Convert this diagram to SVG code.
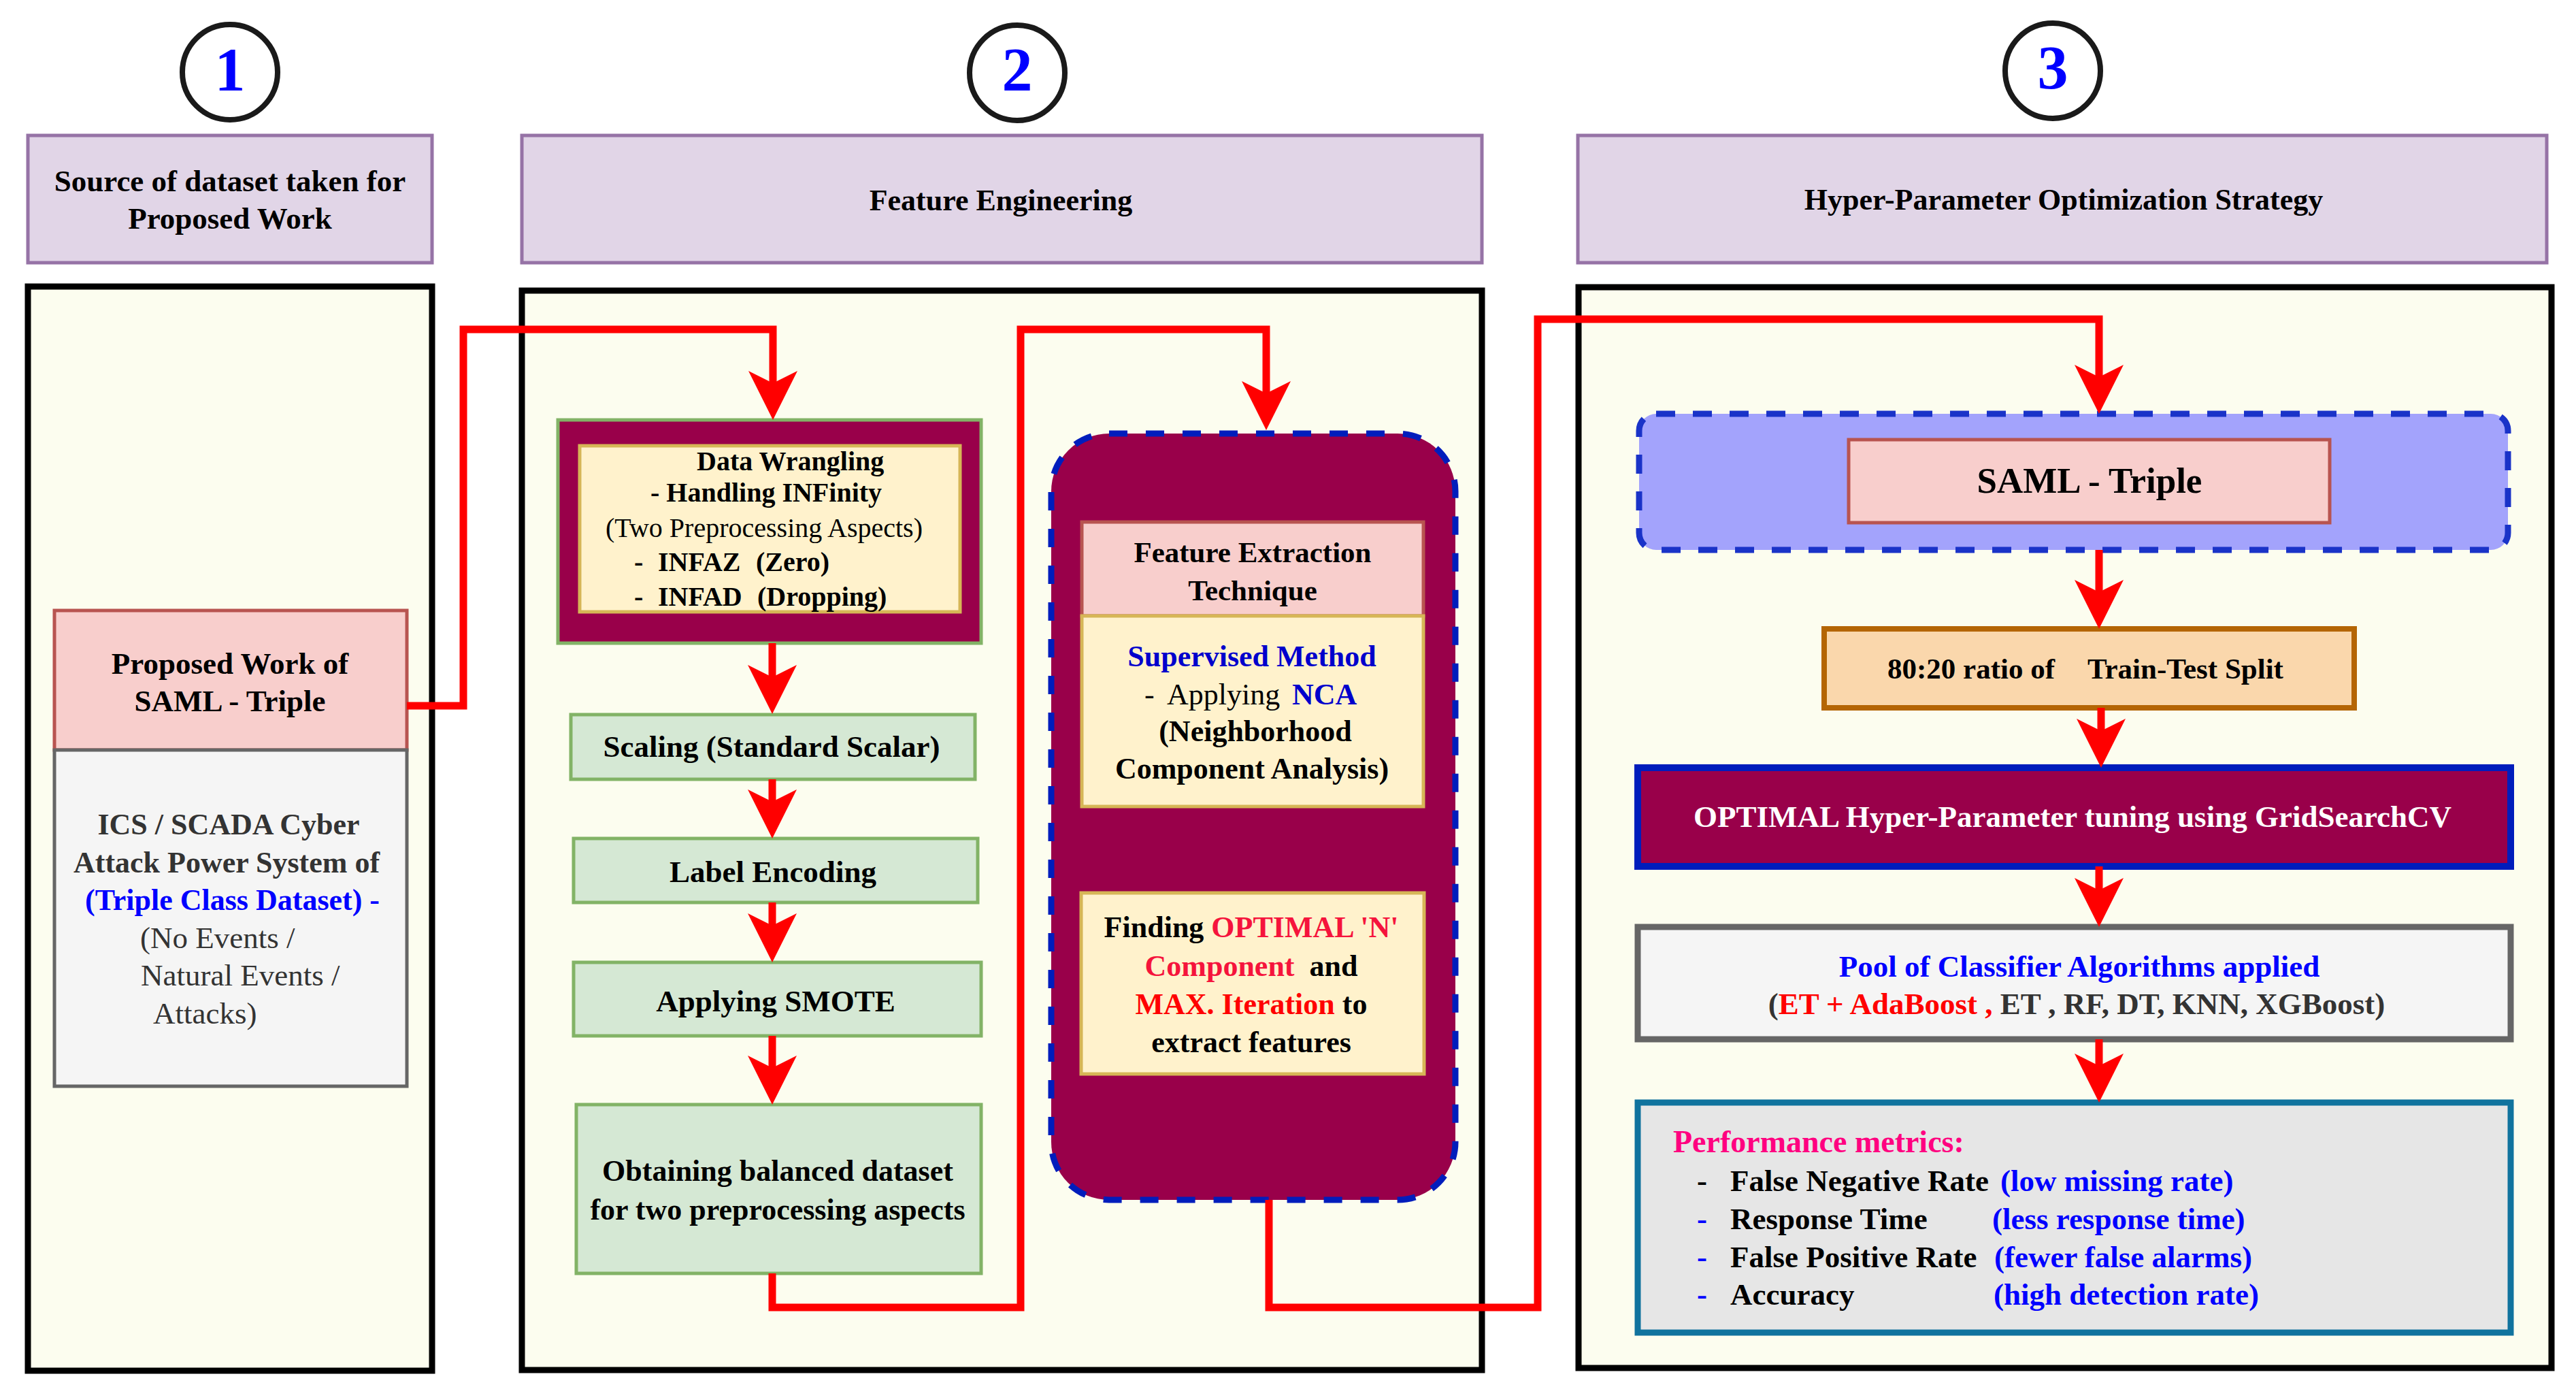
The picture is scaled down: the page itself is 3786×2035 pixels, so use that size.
<svg xmlns="http://www.w3.org/2000/svg" width="3786" height="2035" viewBox="0 0 3786 2035">
<style>
text{font-family:"Liberation Serif","Times New Roman",serif;font-size:45px;font-weight:bold;fill:#000}
.c{text-anchor:middle}
.n{font-weight:normal}
.hdr{fill:#E1D5E7;stroke:#9673A6;stroke-width:5}
.panel{fill:#FCFDEF;stroke:#000;stroke-width:9}
.green{fill:#D5E8D4;stroke:#82B366;stroke-width:5}
.yel{fill:#FFF2CC;stroke:#D6B656;stroke-width:5}
.pink{fill:#F8CECC;stroke:#B85450;stroke-width:5}
.gray{fill:#F5F5F5;stroke:#666666}
.maroon{fill:#99004A}
.num{font-size:90px;fill:#0000FF}
.circ{fill:#fff;stroke:#1A1A1A;stroke-width:8}
.con{fill:none;stroke:#FF0000;stroke-width:11;marker-end:url(#arr)}
.blue{fill:#0000FF}
.dblue{fill:#0000CC}
.red{fill:#FF0000}
.dk{fill:#333333}
.pm{font-size:45px}
</style>
<defs>
<marker id="arr" markerUnits="userSpaceOnUse" markerWidth="72" markerHeight="72" viewBox="0 0 72 72" refX="18" refY="36" orient="auto">
<path d="M0,0 L72,36 L0,72 L18,36 Z" fill="#FF0000"/>
</marker>
</defs>
<rect width="3786" height="2035" fill="#fff"/>

<!-- circles -->
<g id="step1"><circle class="circ" cx="338" cy="106" r="70"/><text class="num c" x="338" y="133">1</text></g>
<g id="step2"><circle class="circ" cx="1495" cy="107" r="70"/><text class="num c" x="1495" y="133">2</text></g>
<g id="step3"><circle class="circ" cx="3017" cy="104" r="70"/><text class="num c" x="3017" y="130">3</text></g>

<!-- headers -->
<g id="header1"><rect class="hdr" x="41" y="199" width="594" height="187"/>
<text class="c" x="338" y="281">Source of dataset taken for</text>
<text class="c" x="338" y="336">Proposed Work</text></g>
<g id="header2"><rect class="hdr" x="767" y="199" width="1411" height="187"/>
<text class="c" x="1471" y="309" style="font-size:44px">Feature Engineering</text></g>
<g id="header3"><rect class="hdr" x="2319" y="199" width="1424" height="187"/>
<text class="c" x="3033" y="308" style="font-size:44px">Hyper-Parameter Optimization Strategy</text></g>

<!-- panels -->
<g id="panel1"><rect class="panel" x="41" y="421" width="594" height="1593"/></g>
<g id="panel2"><rect class="panel" x="767" y="427" width="1411" height="1586"/></g>
<g id="panel3"><rect class="panel" x="2320" y="422" width="1430" height="1588"/></g>

<!-- panel 1 nodes -->
<g id="proposed"><rect class="pink" x="80" y="897" width="518" height="205"/>
<text class="c" x="338" y="990">Proposed Work of</text>
<text class="c" x="338" y="1045">SAML - Triple</text></g>
<g id="dataset"><rect class="gray" style="stroke-width:5" x="80" y="1102" width="518" height="494"/>
<text class="c dk" x="336" y="1226" style="font-size:44px">ICS / SCADA Cyber</text>
<text class="c dk" x="333" y="1282" style="font-size:44px">Attack Power System of</text>
<text class="blue" x="125" y="1337" style="font-size:44px">(Triple Class Dataset) -</text>
<text class="n dk" x="206" y="1393">(No Events /</text>
<text class="n dk" x="207" y="1448">Natural Events /</text>
<text class="n dk" x="225" y="1504">Attacks)</text></g>

<!-- panel 2 nodes -->
<g id="wrangling"><rect class="maroon" x="820" y="617" width="622" height="328" stroke="#82B366" stroke-width="5"/>
<rect class="yel" x="852" y="655" width="559" height="244"/>
<text x="1024" y="691" style="font-size:40px">Data Wrangling</text>
<text x="956" y="737" style="font-size:40px">- Handling INFinity</text>
<text class="n" x="890" y="789" style="font-size:40px">(Two Preprocessing Aspects)</text>
<text style="font-size:40px" y="839"><tspan x="932">-</tspan><tspan x="967">INFAZ</tspan><tspan x="1111">(Zero)</tspan></text>
<text style="font-size:40px" y="890"><tspan x="932">-</tspan><tspan x="967">INFAD</tspan><tspan x="1113">(Dropping)</tspan></text></g>
<g id="scaling"><rect class="green" x="839" y="1050" width="594" height="95"/>
<text class="c" x="1134" y="1112">Scaling (Standard Scalar)</text></g>
<g id="labelenc"><rect class="green" x="843" y="1232" width="594" height="94"/>
<text class="c" x="1136" y="1296">Label Encoding</text></g>
<g id="smote"><rect class="green" x="843" y="1414" width="599" height="108"/>
<text class="c" x="1140" y="1486">Applying SMOTE</text></g>
<g id="balanced"><rect class="green" x="847" y="1623" width="595" height="248"/>
<text class="c" x="1143" y="1735" style="font-size:44px">Obtaining balanced dataset</text>
<text class="c" x="1143" y="1792" style="font-size:44px">for two preprocessing aspects</text></g>

<g id="featureContainer"><rect x="1545" y="637" width="594" height="1126" rx="85" ry="85" fill="#99004A" stroke="#001DBC" stroke-width="9" stroke-dasharray="27 27"/></g>
<g id="featureTitle"><rect class="pink" x="1590" y="767" width="502" height="138"/>
<text class="c" x="1841" y="826" style="font-size:43px">Feature Extraction</text>
<text class="c" x="1841" y="882" style="font-size:43px">Technique</text></g>
<g id="supervised"><rect class="yel" x="1590" y="905" width="502" height="280"/>
<text class="c dblue" x="1840" y="979" style="font-size:44px">Supervised Method</text>
<text style="font-size:44px" y="1035"><tspan class="n" x="1682">-</tspan><tspan class="n" x="1715">Applying</tspan><tspan class="dblue" x="1899">NCA</tspan></text>
<text class="c" x="1845" y="1089" style="font-size:44px">(Neighborhood</text>
<text class="c" x="1840" y="1144" style="font-size:44px">Component Analysis)</text></g>
<g id="optimalN"><rect class="yel" x="1589" y="1312" width="504" height="266"/>
<text class="c" x="1839" y="1377" style="font-size:44px">Finding <tspan fill="#F5143C">OPTIMAL 'N'</tspan></text>
<text class="c" x="1839" y="1434" style="font-size:44px" xml:space="preserve"><tspan fill="#F5143C">Component</tspan>  and</text>
<text class="c" x="1839" y="1490" style="font-size:44px"><tspan class="red">MAX. Iteration</tspan> to</text>
<text class="c" x="1839" y="1546" style="font-size:44px">extract features</text></g>

<!-- panel 3 nodes -->
<g id="samlGroup"><rect x="2409" y="608" width="1277" height="200" rx="25" ry="25" fill="#A3A3FC" stroke="#1A33C8" stroke-width="9" stroke-dasharray="28 26"/></g>
<g id="samlTriple"><rect class="pink" x="2717" y="646" width="707" height="122"/>
<text class="c" x="3071" y="724" style="font-size:53px">SAML - Triple</text></g>
<g id="split"><rect x="2681" y="924" width="779" height="116" fill="#FAD7AC" stroke="#B46504" stroke-width="8"/>
<text y="997" style="font-size:43px"><tspan x="2774">80:20 ratio of</tspan><tspan x="3068">Train-Test Split</tspan></text></g>
<g id="gridsearch"><rect x="2407" y="1128" width="1283" height="145" fill="#99004A" stroke="#001DBC" stroke-width="10"/>
<text class="c" x="3046" y="1215" style="fill:#fff">OPTIMAL Hyper-Parameter tuning using GridSearchCV</text></g>
<g id="pool"><rect class="gray" style="stroke-width:9" x="2407" y="1362" width="1283" height="165"/>
<text class="c blue" x="3056" y="1435">Pool of Classifier Algorithms applied</text>
<text class="c dk" x="3052" y="1490">(<tspan class="red">ET + AdaBoost ,</tspan> ET , RF, DT, KNN, XGBoost)</text></g>
<g id="metrics"><rect x="2407" y="1620" width="1283" height="338" fill="#E6E6E6" stroke="#10739E" stroke-width="9"/>
<text x="2459" y="1693" style="font-size:46px;fill:#FF0080">Performance metrics:</text>
<text class="pm" y="1750"><tspan x="2494">-</tspan><tspan x="2543">False Negative Rate</tspan><tspan class="blue" x="2940">(low missing rate)</tspan></text>
<text class="pm" y="1806"><tspan class="blue" x="2494">-</tspan><tspan x="2543">Response Time</tspan><tspan class="blue" x="2928">(less response time)</tspan></text>
<text class="pm" y="1862"><tspan class="blue" x="2494">-</tspan><tspan x="2543">False Positive Rate</tspan><tspan class="blue" x="2931">(fewer false alarms)</tspan></text>
<text class="pm" y="1917"><tspan class="blue" x="2494">-</tspan><tspan x="2543">Accuracy</tspan><tspan class="blue" x="2930">(high detection rate)</tspan></text></g>

<!-- connectors -->
<g id="connectors">
<path class="con" d="M598,1037 H681 V484 H1136 V563"/>
<path class="con" d="M1135,945 V995"/>
<path class="con" d="M1135,1145 V1178"/>
<path class="con" d="M1135,1326 V1360"/>
<path class="con" d="M1135,1522 V1569"/>
<path class="con" d="M1135,1871 V1921 H1500 V484 H1861 V578"/>
<path class="con" d="M1865,1763 V1921 H2260 V469 H3085 V554"/>
<path class="con" d="M3085,808 V870"/>
<path class="con" d="M3088,1040 V1074"/>
<path class="con" d="M3085,1273 V1308"/>
<path class="con" d="M3085,1527 V1566"/>
</g>
</svg>
